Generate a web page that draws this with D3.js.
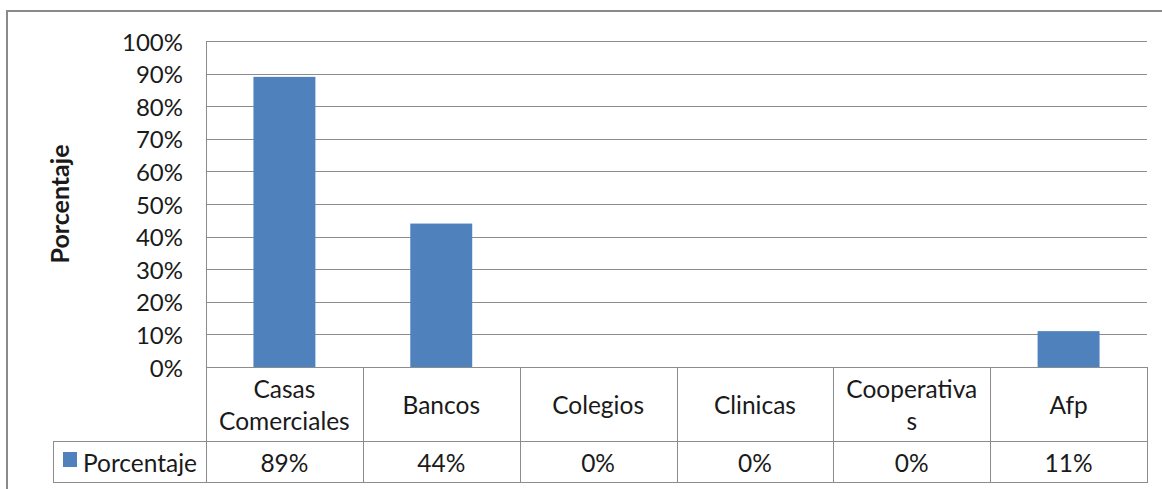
<!DOCTYPE html>
<html>
<head>
<meta charset="utf-8">
<script src="https://cdn.jsdelivr.net/npm/d3@7"></script>
<style>
  html, body { margin: 0; padding: 0; background: #fff; }
  svg { display: block; }
  text { font-family: Lato, "Open Sans", sans-serif; fill: #1a1a1a; }
</style>
</head>
<body>
<svg id="chart" width="1162" height="489"></svg>
<script>
// Data
const categories = ["Casas Comerciales", "Bancos", "Colegios", "Clinicas", "Cooperativas", "Afp"];
const categoryLines = [["Casas", "Comerciales"], ["Bancos"], ["Colegios"], ["Clinicas"], ["Cooperativa", "s"], ["Afp"]];
const values = [89, 44, 0, 0, 0, 11];
const valueLabels = ["89%", "44%", "0%", "0%", "0%", "11%"];
const yTicks = [0, 10, 20, 30, 40, 50, 60, 70, 80, 90, 100];
const seriesName = "Porcentaje";
const axisTitle = "Porcentaje";

(function draw() {
  const svg = d3.select("#chart");
  const gridColor = "#8c8c8c";
  const barColor = "#4F81BD";
  const fs = 24.5;

  // Plot geometry
  const plotLeft = 206, plotRight = 1147, plotTop = 41, plotBottom = 367;
  const labelRowBottom = 441, tableBottom = 482, legendLeft = 53;

  const x = d3.scaleBand().domain(categories).range([plotLeft, plotRight]).padding(0);
  const y = d3.scaleLinear().domain([0, 100]).range([plotBottom, plotTop]);
  const barWidth = x.bandwidth() * 0.395;

  // Outer chart frame
  svg.append("rect")
    .attr("x", 7).attr("y", 11).attr("width", 1170).attr("height", 500)
    .attr("fill", "none").attr("stroke", "#8a8a8a").attr("stroke-width", 2);

  // Horizontal gridlines
  svg.append("g").selectAll("line").data(yTicks.filter(d => d > 0)).join("line")
    .attr("x1", plotLeft).attr("x2", plotRight)
    .attr("y1", d => Math.round(y(d)) + 0.5).attr("y2", d => Math.round(y(d)) + 0.5)
    .attr("stroke", gridColor).attr("stroke-width", 1);

  // Y tick labels
  svg.append("g").selectAll("text").data(yTicks).join("text")
    .attr("x", 183).attr("y", d => y(d))
    .attr("text-anchor", "end").attr("dominant-baseline", "central")
    .attr("font-size", 24)
    .text(d => d + "%");

  // Y axis title
  svg.append("text")
    .attr("transform", `translate(69,${(plotTop + plotBottom) / 2}) rotate(-90)`)
    .attr("text-anchor", "middle")
    .attr("font-size", 25).attr("font-weight", "bold")
    .text(axisTitle);

  // Bars
  svg.append("g").selectAll("rect").data(categories).join("rect")
    .attr("x", d => x(d) + (x.bandwidth() - barWidth) / 2)
    .attr("width", barWidth)
    .attr("y", (d, i) => y(values[i]))
    .attr("height", (d, i) => y(0) - y(values[i]))
    .attr("fill", barColor);

  // Data table lines
  const tbl = svg.append("g").attr("stroke", gridColor).attr("stroke-width", 1).attr("fill", "none");
  tbl.append("line").attr("x1", plotLeft).attr("x2", plotRight).attr("y1", plotBottom + 0.5).attr("y2", plotBottom + 0.5);
  tbl.append("line").attr("x1", legendLeft).attr("x2", plotRight).attr("y1", labelRowBottom + 0.5).attr("y2", labelRowBottom + 0.5);
  tbl.append("line").attr("x1", legendLeft).attr("x2", plotRight).attr("y1", tableBottom + 0.5).attr("y2", tableBottom + 0.5);
  tbl.append("line").attr("x1", legendLeft + 0.5).attr("x2", legendLeft + 0.5).attr("y1", labelRowBottom).attr("y2", tableBottom + 1);
  tbl.append("line").attr("x1", plotLeft + 0.5).attr("x2", plotLeft + 0.5).attr("y1", plotTop).attr("y2", tableBottom + 1);
  tbl.selectAll("line.col").data(categories).join("line").attr("class", "col")
    .attr("x1", d => Math.round(x(d) + x.bandwidth()) + 0.5)
    .attr("x2", d => Math.round(x(d) + x.bandwidth()) + 0.5)
    .attr("y1", plotBottom).attr("y2", tableBottom + 1);

  // Category labels
  svg.append("g").selectAll("g").data(categories).join("g")
    .each(function(d, i) {
      const lines = categoryLines[i];
      const cx = x(d) + x.bandwidth() / 2;
      const cy = (plotBottom + labelRowBottom) / 2;
      const lh = 32;
      lines.forEach((ln, k) => {
        d3.select(this).append("text")
          .attr("x", cx)
          .attr("y", cy + (k - (lines.length - 1) / 2) * lh)
          .attr("text-anchor", "middle").attr("dominant-baseline", "central")
          .attr("font-size", fs)
          .text(ln);
      });
    });

  // Value row
  svg.append("g").selectAll("text").data(categories).join("text")
    .attr("x", d => x(d) + x.bandwidth() / 2)
    .attr("y", (labelRowBottom + tableBottom) / 2 + 1)
    .attr("text-anchor", "middle").attr("dominant-baseline", "central")
    .attr("font-size", fs)
    .text((d, i) => valueLabels[i]);

  // Legend key in the table
  svg.append("rect")
    .attr("x", 63).attr("y", 452).attr("width", 14).attr("height", 15)
    .attr("fill", barColor);
  svg.append("text")
    .attr("x", 83).attr("y", (labelRowBottom + tableBottom) / 2 + 1)
    .attr("dominant-baseline", "central")
    .attr("font-size", fs)
    .text(seriesName);
})();
</script>
</body>
</html>
